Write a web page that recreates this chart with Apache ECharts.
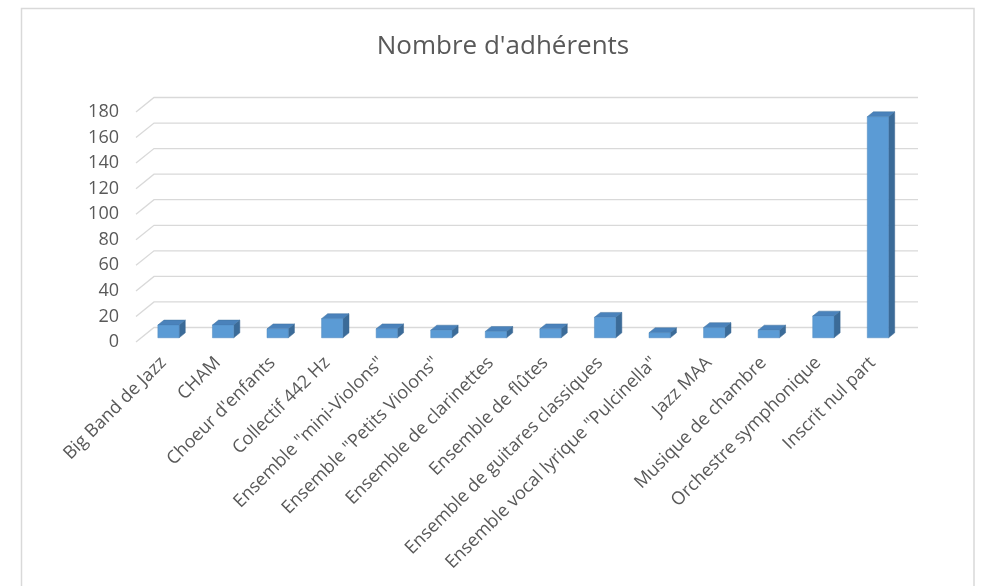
<!DOCTYPE html>
<html>
<head>
<meta charset="utf-8">
<script src="https://cdn.jsdelivr.net/npm/echarts@6/dist/echarts.min.js"></script>
<style>
  html, body { margin: 0; padding: 0; background: #fff; }
  #main { width: 987px; height: 586px; }
</style>
</head>
<body>
<div id="main"></div>
<script>
// données
const categories = [
  'Big Band de Jazz', 'CHAM', "Choeur d'enfants", 'Collectif 442 Hz',
  'Ensemble "mini-Violons"', 'Ensemble "Petits Violons"', 'Ensemble de clarinettes',
  'Ensemble de flûtes', 'Ensemble de guitares classiques',
  'Ensemble vocal lyrique "Pulcinella"', 'Jazz MAA', 'Musique de chambre',
  'Orchestre symphonique', 'Inscrit nul part'
];
const adherents = [10, 10, 7, 15, 7, 6, 5, 7, 16, 4, 8, 6, 17, 173];
const yTicks = [0, 20, 40, 60, 80, 100, 120, 140, 160, 180];

// profondeur de la vue 3D (mur du fond)
const DEPTH = [18, -14.5];
const BAR_FRONT = 0.29;
const BAR_BACK = 0.63;

const chart = echarts.init(document.getElementById('main'), null, { renderer: 'canvas' });

const renderGrid = (params, api) => {
  const v = api.value(1);
  const band = api.size([1, 0])[0];
  const left = api.coord([0, v]);
  const right = api.coord([categories.length - 1, v]);
  const x0 = left[0] - band / 2;
  const x1 = right[0] + band / 2;
  const y = left[1];
  return {
    type: 'polyline',
    shape: {
      points: [
        [x0, y],
        [x0 + DEPTH[0], y + DEPTH[1]],
        [x1 + DEPTH[0], y + DEPTH[1]]
      ]
    },
    style: { stroke: '#d9d9d9', lineWidth: 1.3, fill: null },
    silent: true
  };
};

const renderBar = (params, api) => {
  const i = api.value(0);
  const top = api.coord([i, api.value(1)]);
  const base = api.coord([i, 0]);
  const w = api.size([1, 0])[0] * 0.39;
  const fx = DEPTH[0] * BAR_FRONT, fy = DEPTH[1] * BAR_FRONT;
  const bx = DEPTH[0] * BAR_BACK, by = DEPTH[1] * BAR_BACK;
  const xl = top[0] - w / 2 + fx;
  const xr = top[0] + w / 2 + fx;
  const yt = top[1] + fy;
  const yb = base[1] + fy;
  const ddx = bx - fx, ddy = by - fy;
  return {
    type: 'group',
    children: [
      {
        type: 'polygon',
        shape: { points: [[xr, yt], [xr + ddx, yt + ddy], [xr + ddx, yb + ddy], [xr, yb]] },
        style: { fill: '#3b6b98', stroke: '#3a6792', lineWidth: 0.5 }
      },
      {
        type: 'polygon',
        shape: { points: [[xl, yt], [xl + ddx, yt + ddy], [xr + ddx, yt + ddy], [xr, yt]] },
        style: { fill: '#4a82bb', stroke: '#41729f', lineWidth: 0.5 }
      },
      {
        type: 'rect',
        shape: { x: xl, y: yt, width: xr - xl, height: yb - yt },
        style: { fill: '#5b9bd5', stroke: '#4f89bf', lineWidth: 0.5 }
      }
    ]
  };
};

const option = {
  backgroundColor: '#ffffff',
  animation: false,
  title: {
    text: "Nombre d'adhérents",
    left: 498,
    textAlign: 'center',
    top: 29,
    textStyle: {
      fontFamily: 'Open Sans',
      fontSize: 26,
      fontWeight: 'normal',
      color: '#595959'
    }
  },
  graphic: [{
    type: 'rect',
    shape: { x: 21.5, y: 8.5, width: 952.5, height: 620 },
    style: { fill: null, stroke: '#d9d9d9', lineWidth: 1.5 },
    silent: true
  }],
  grid: {
    left: 136,
    right: 87,
    top: 112,
    bottom: 244,
    containLabel: false,
    outerBoundsMode: 'none'
  },
  xAxis: {
    type: 'category',
    data: categories,
    axisLine: { show: false },
    axisTick: { show: false },
    splitLine: { show: false },
    axisLabel: {
      interval: 0,
      rotate: 45,
      margin: 18,
      fontFamily: 'Open Sans',
      fontSize: 18,
      color: '#595959'
    }
  },
  yAxis: {
    type: 'value',
    min: 0,
    max: 180,
    interval: 20,
    axisLine: { show: false },
    axisTick: { show: false },
    splitLine: { show: false },
    axisLabel: {
      margin: 17,
      fontFamily: 'Open Sans',
      fontSize: 18,
      color: '#595959'
    }
  },
  series: [
    {
      name: 'grille',
      type: 'custom',
      renderItem: renderGrid,
      data: yTicks.map(t => [0, t]),
      z: 1,
      silent: true
    },
    {
      name: "Nombre d'adhérents",
      type: 'custom',
      renderItem: renderBar,
      data: adherents.map((v, i) => [i, v]),
      z: 2
    }
  ]
};

chart.setOption(option);
</script>
</body>
</html>
